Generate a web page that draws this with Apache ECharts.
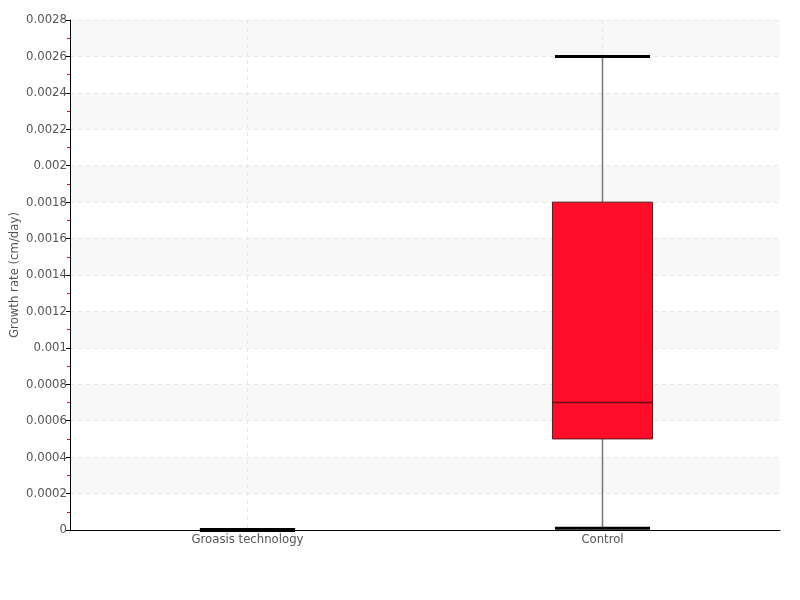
<!DOCTYPE html>
<html><head><meta charset="utf-8">
<script src="https://cdn.jsdelivr.net/npm/echarts@6/dist/echarts.min.js"></script>
<style>html,body{margin:0;padding:0;background:#fff}#c{width:800px;height:600px}</style>
</head><body><div id="c"></div>
<script>
var categories = ['Groasis technology', 'Control'];
// [min, Q1, median, Q3, max]
var groasis = [0, 0, 0, 0, 0];
var control = [0.00001, 0.0005, 0.0007, 0.0018, 0.0026];
var boxData = [groasis, control];
var FONT = '"Liberation Sans Narrow", "DejaVu Sans Condensed", "Roboto Condensed", sans-serif';

var chart = echarts.init(document.getElementById('c'));
chart.setOption({
  animation: false,
  backgroundColor: '#fff',
  grid: {left: 70, right: 20, top: 20, bottom: 70, containLabel: false, outerBoundsMode: 'none'},
  xAxis: {
    type: 'category', data: categories,
    axisLine: {lineStyle: {color: '#000', width: 1}},
    axisTick: {show: false, alignWithLabel: true},
    axisLabel: {color: '#555', fontSize: 13, fontFamily: FONT, margin: 3},
    splitLine: {show: true, alignWithLabel: true, lineStyle: {color: '#e6e6e6', type: [4, 4]}}
  },
  yAxis: {
    type: 'value', min: 0, max: 0.0028, interval: 0.0002,
    name: 'Growth rate (cm/day)', nameLocation: 'middle', nameGap: 49, nameMoveOverlap: false,
    nameTextStyle: {color: '#555', fontSize: 13, fontFamily: FONT},
    axisLine: {show: true, lineStyle: {color: '#000', width: 1}},
    axisTick: {show: true, length: 4, lineStyle: {color: '#000'}},
    minorTick: {show: true, splitNumber: 2, length: 3, lineStyle: {color: '#ff0000'}},
    axisLabel: {color: '#555', fontSize: 13, fontFamily: FONT, margin: 3,
      formatter: function (v) { return String(+v.toFixed(6)); }},
    splitLine: {show: true, lineStyle: {color: '#e6e6e6', type: [4, 4]}},
    splitArea: {show: true, areaStyle: {color: ['rgba(255,255,255,0)', '#f8f8f8']}}
  },
  series: [{
    type: 'custom',
    clip: false,
    z: 5,
    data: boxData.map(function (d, i) { return [i].concat(d); }),
    encode: {x: 0, y: [1, 2, 3, 4, 5]},
    renderItem: function (params, api) {
      var i = api.value(0);
      var pMin = api.coord([i, api.value(1)]);
      var pQ1 = api.coord([i, api.value(2)]);
      var pMed = api.coord([i, api.value(3)]);
      var pQ3 = api.coord([i, api.value(4)]);
      var pMax = api.coord([i, api.value(5)]);
      var band = api.size([1, 0])[0];
      var bw = band * 0.282, cw = band * 0.268;
      var x = pMed[0];
      var children = [];
      children.push({type: 'line', shape: {x1: x, y1: pMax[1], x2: x, y2: pQ3[1]}, style: {stroke: '#777', lineWidth: 1.5}});
      children.push({type: 'line', shape: {x1: x, y1: pQ1[1], x2: x, y2: pMin[1]}, style: {stroke: '#777', lineWidth: 1.5}});
      if (pQ1[1] - pQ3[1] > 0.5) {
        children.push({type: 'rect', shape: {x: x - bw / 2, y: pQ3[1], width: bw, height: pQ1[1] - pQ3[1]}, style: {fill: '#ff0d2b', stroke: '#5a1a1a', lineWidth: 1}});
        children.push({type: 'line', shape: {x1: x - bw / 2, y1: pMed[1], x2: x + bw / 2, y2: pMed[1]}, style: {stroke: '#6a0a12', lineWidth: 1.5}});
      }
      var capW = (pQ1[1] - pQ3[1] > 0.5) ? 3 : 4;
      children.push({type: 'line', shape: {x1: x - cw / 2, y1: pMax[1], x2: x + cw / 2, y2: pMax[1]}, style: {stroke: '#000', lineWidth: capW}});
      children.push({type: 'line', shape: {x1: x - cw / 2, y1: pMin[1], x2: x + cw / 2, y2: pMin[1]}, style: {stroke: '#000', lineWidth: capW}});
      return {type: 'group', children: children};
    }
  }]
});
</script></body></html>
